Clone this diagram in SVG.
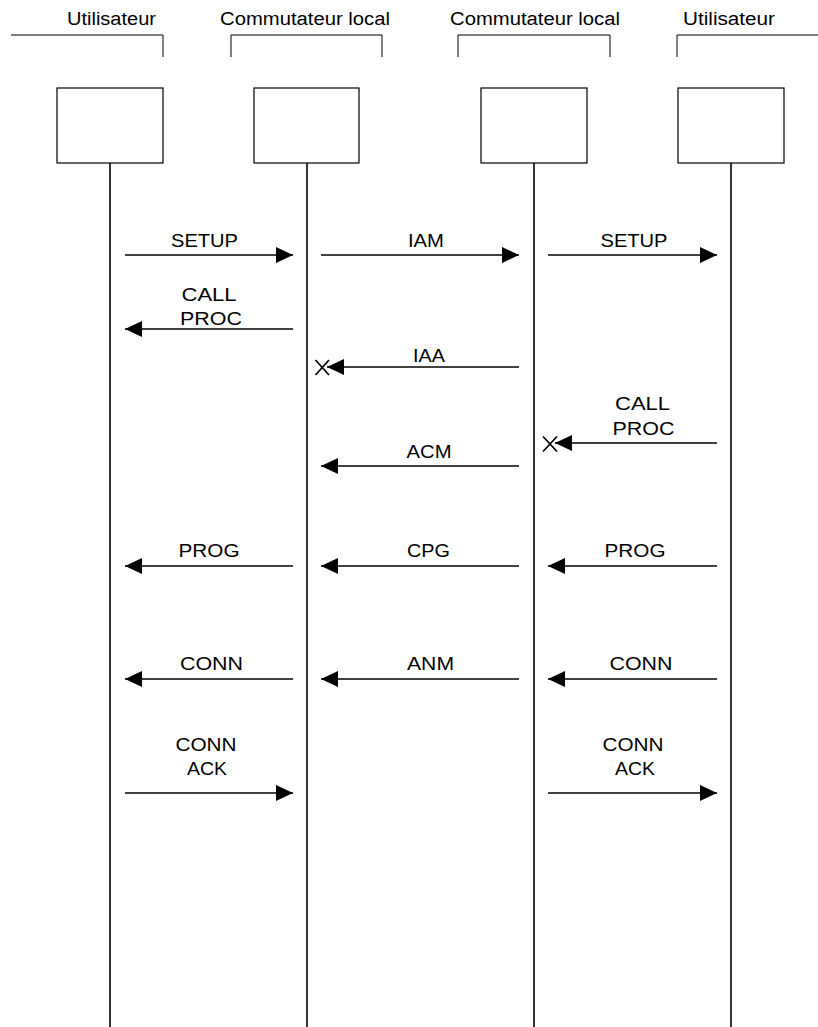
<svg xmlns="http://www.w3.org/2000/svg" width="818" height="1027" viewBox="0 0 818 1027">
<style>
text{font-family:"Liberation Sans",Arial,sans-serif;font-size:18px;fill:#000;text-anchor:middle}
.hdr{fill:none;stroke:#000;stroke-width:1}
.box{fill:#fff;stroke:#000;stroke-width:1.2}
.life{stroke:#000;stroke-width:1.6}
.msg{stroke:#000;stroke-width:1.5;fill:none}
.xm{stroke:#000;stroke-width:1.7}
</style>
<defs>
<marker id="ah" markerWidth="17" markerHeight="16" refX="17" refY="8" orient="auto" markerUnits="userSpaceOnUse">
<path d="M0,0 L17,8 L0,16 Z" fill="#000"/>
</marker>
</defs>
<rect width="818" height="1027" fill="#fff"/>
<g id="user-left">
<text x="111.5" y="25" textLength="89" lengthAdjust="spacingAndGlyphs">Utilisateur</text>
<path class="hdr" d="M11,35 H163 V57"/>
<rect class="box" x="57" y="88" width="106" height="75"/>
<line class="life" x1="110" y1="163" x2="110" y2="1027"/>
</g>
<g id="switch-left">
<text x="305" y="25" textLength="170" lengthAdjust="spacingAndGlyphs">Commutateur local</text>
<path class="hdr" d="M231,57 V35 H382 V57"/>
<rect class="box" x="254" y="88" width="105" height="75"/>
<line class="life" x1="307" y1="163" x2="307" y2="1027"/>
</g>
<g id="switch-right">
<text x="535" y="25" textLength="170" lengthAdjust="spacingAndGlyphs">Commutateur local</text>
<path class="hdr" d="M458,57 V35 H610 V57"/>
<rect class="box" x="481" y="88" width="106" height="75"/>
<line class="life" x1="534" y1="163" x2="534" y2="1027"/>
</g>
<g id="user-right">
<text x="729" y="25" textLength="92" lengthAdjust="spacingAndGlyphs">Utilisateur</text>
<path class="hdr" d="M677,57 V35 H818"/>
<rect class="box" x="678" y="88" width="106" height="75"/>
<line class="life" x1="731" y1="163" x2="731" y2="1027"/>
</g>
<g id="connectors">
<line class="msg" x1="125" y1="255" x2="293" y2="255" marker-end="url(#ah)"/>
<text x="204.5" y="247" textLength="67" lengthAdjust="spacingAndGlyphs">SETUP</text>
<line class="msg" x1="321" y1="255" x2="519" y2="255" marker-end="url(#ah)"/>
<text x="426" y="247" textLength="36" lengthAdjust="spacingAndGlyphs">IAM</text>
<line class="msg" x1="548" y1="255" x2="717" y2="255" marker-end="url(#ah)"/>
<text x="634" y="247" textLength="67" lengthAdjust="spacingAndGlyphs">SETUP</text>

<line class="msg" x1="293" y1="329" x2="125" y2="329" marker-end="url(#ah)"/>
<text x="209" y="301" textLength="55" lengthAdjust="spacingAndGlyphs">CALL</text>
<text x="211" y="325" textLength="62" lengthAdjust="spacingAndGlyphs">PROC</text>

<line class="msg" x1="519" y1="367" x2="327" y2="367" marker-end="url(#ah)"/>
<text x="429" y="362" textLength="32" lengthAdjust="spacingAndGlyphs">IAA</text>
<line class="xm" x1="315.5" y1="360" x2="329" y2="375"/>
<line class="xm" x1="329" y1="360" x2="315.5" y2="375"/>

<line class="msg" x1="717" y1="443" x2="555" y2="443" marker-end="url(#ah)"/>
<text x="642.5" y="410" textLength="55" lengthAdjust="spacingAndGlyphs">CALL</text>
<text x="643.5" y="435" textLength="62" lengthAdjust="spacingAndGlyphs">PROC</text>
<line class="xm" x1="543" y1="436.5" x2="557" y2="451.5"/>
<line class="xm" x1="557" y1="436.5" x2="543" y2="451.5"/>

<line class="msg" x1="519" y1="466" x2="321" y2="466" marker-end="url(#ah)"/>
<text x="429" y="458" textLength="45" lengthAdjust="spacingAndGlyphs">ACM</text>

<line class="msg" x1="293" y1="566" x2="125" y2="566" marker-end="url(#ah)"/>
<text x="209" y="557" textLength="61" lengthAdjust="spacingAndGlyphs">PROG</text>
<line class="msg" x1="519" y1="566" x2="321" y2="566" marker-end="url(#ah)"/>
<text x="428.5" y="557" textLength="43" lengthAdjust="spacingAndGlyphs">CPG</text>
<line class="msg" x1="717" y1="566" x2="548" y2="566" marker-end="url(#ah)"/>
<text x="635" y="557" textLength="61" lengthAdjust="spacingAndGlyphs">PROG</text>

<line class="msg" x1="293" y1="679" x2="125" y2="679" marker-end="url(#ah)"/>
<text x="211.5" y="670" textLength="63" lengthAdjust="spacingAndGlyphs">CONN</text>
<line class="msg" x1="519" y1="679" x2="321" y2="679" marker-end="url(#ah)"/>
<text x="430.5" y="670" textLength="47" lengthAdjust="spacingAndGlyphs">ANM</text>
<line class="msg" x1="717" y1="679" x2="548" y2="679" marker-end="url(#ah)"/>
<text x="641" y="670" textLength="63" lengthAdjust="spacingAndGlyphs">CONN</text>

<line class="msg" x1="125" y1="793" x2="293" y2="793" marker-end="url(#ah)"/>
<text x="206" y="751" textLength="61" lengthAdjust="spacingAndGlyphs">CONN</text>
<text x="207" y="775" textLength="40" lengthAdjust="spacingAndGlyphs">ACK</text>
<line class="msg" x1="548" y1="793" x2="717" y2="793" marker-end="url(#ah)"/>
<text x="633" y="751" textLength="61" lengthAdjust="spacingAndGlyphs">CONN</text>
<text x="635" y="775" textLength="40" lengthAdjust="spacingAndGlyphs">ACK</text>
</g>
</svg>
